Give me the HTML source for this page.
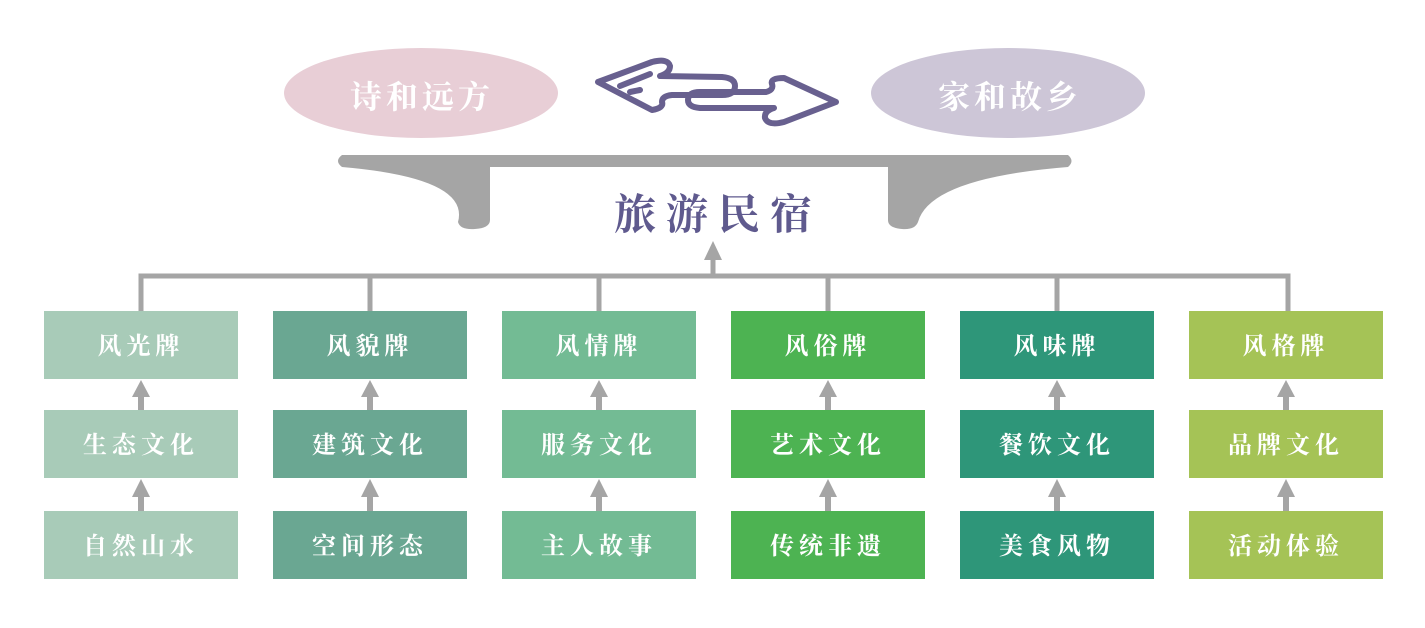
<!DOCTYPE html>
<html><head><meta charset="utf-8"><style>
html,body{margin:0;padding:0;background:#fff;}
body{width:1425px;height:628px;overflow:hidden;position:relative;font-family:"Liberation Serif","Noto Serif CJK SC","Noto Sans CJK SC",serif;}
.b{position:absolute;width:194px;height:68px;color:#fff;font-size:24px;font-weight:bold;display:flex;align-items:center;justify-content:center;letter-spacing:5px;padding-bottom:4px;box-sizing:border-box;}
.t{position:absolute;color:#fff;font-size:32px;font-weight:bold;letter-spacing:4px;}
</style></head><body>
<svg width="1425" height="628" style="position:absolute;left:0;top:0">
<ellipse cx="421" cy="93" rx="137" ry="45" fill="#e8ced6"/>
<ellipse cx="1008" cy="93" rx="137" ry="45" fill="#cdc6d7"/>
<g fill="none" stroke="#68608f" stroke-width="6" stroke-linejoin="round" stroke-linecap="round">
<path d="M598 82 L652 62 Q668 58 670 66 Q670 73 660 76 L722 77 Q735 78 735 86 Q735 95 722 95 L672 95 Q662 96 662 102 Q664 108 652 110 Z"/>
<path d="M836 102 L784 122 Q768 126 765 118 Q764 111 774 108 L700 108 Q688 107 688 100 Q688 92 700 92 L766 92 Q774 90 772 84 Q770 78 784 78 Z"/>
<path d="M620 86 L650 74 M630 92 L640 90"/>
</g>
<path d="M342 155 Q334 161 342 167 Q470 178 458 222 Q460 230 475 229 Q490 228 490 220 L490 167 L1068 167 Q1075 161 1068 155 Z" fill="#a5a5a5"/>
<path d="M888 167 L1068 167 Q930 178 918 222 Q915 230 902 229 Q888 228 888 220 Z" fill="#a5a5a5"/>
<g stroke="#a5a5a5" stroke-width="5" fill="none">
<path d="M141 311 L141 276 L1288 276 L1288 311 M370 276 L370 311 M599 276 L599 311 M828 276 L828 311 M1057 276 L1057 311 M713 276 L713 258"/>
</g>
<polygon points="713,241 704,260 722,260" fill="#a5a5a5"/>
</svg>
<div class="t" style="left:350px;top:72px">诗和远方</div>
<div class="t" style="left:938px;top:72px">家和故乡</div>
<div style="position:absolute;left:614px;top:182px;font-size:42px;color:#5f5a8e;font-weight:bold;letter-spacing:10px">旅游民宿</div>

<div class="b" style="left:44px;top:311px;background:#a8cbb8">风光牌</div>
<div class="b" style="left:44px;top:410px;background:#a8cbb8">生态文化</div>
<div class="b" style="left:44px;top:511px;background:#a8cbb8">自然山水</div>
<div class="b" style="left:273px;top:311px;background:#6aa792">风貌牌</div>
<div class="b" style="left:273px;top:410px;background:#6aa792">建筑文化</div>
<div class="b" style="left:273px;top:511px;background:#6aa792">空间形态</div>
<div class="b" style="left:502px;top:311px;background:#73bb94">风情牌</div>
<div class="b" style="left:502px;top:410px;background:#73bb94">服务文化</div>
<div class="b" style="left:502px;top:511px;background:#73bb94">主人故事</div>
<div class="b" style="left:731px;top:311px;background:#4db352">风俗牌</div>
<div class="b" style="left:731px;top:410px;background:#4db352">艺术文化</div>
<div class="b" style="left:731px;top:511px;background:#4db352">传统非遗</div>
<div class="b" style="left:960px;top:311px;background:#2e9679">风味牌</div>
<div class="b" style="left:960px;top:410px;background:#2e9679">餐饮文化</div>
<div class="b" style="left:960px;top:511px;background:#2e9679">美食风物</div>
<div class="b" style="left:1189px;top:311px;background:#a5c356">风格牌</div>
<div class="b" style="left:1189px;top:410px;background:#a5c356">品牌文化</div>
<div class="b" style="left:1189px;top:511px;background:#a5c356">活动体验</div>

<svg width="1425" height="628" style="position:absolute;left:0;top:0">
<g fill="#a5a5a5">
<path d="M132 397 L141 380 L150 397 L144 397 L144 410 L138 410 L138 397 Z"/>
<path d="M132 497 L141 479 L150 497 L144 497 L144 511 L138 511 L138 497 Z"/>
<path d="M361 397 L370 380 L379 397 L373 397 L373 410 L367 410 L367 397 Z"/>
<path d="M361 497 L370 479 L379 497 L373 497 L373 511 L367 511 L367 497 Z"/>
<path d="M590 397 L599 380 L608 397 L602 397 L602 410 L596 410 L596 397 Z"/>
<path d="M590 497 L599 479 L608 497 L602 497 L602 511 L596 511 L596 497 Z"/>
<path d="M819 397 L828 380 L837 397 L831 397 L831 410 L825 410 L825 397 Z"/>
<path d="M819 497 L828 479 L837 497 L831 497 L831 511 L825 511 L825 497 Z"/>
<path d="M1048 397 L1057 380 L1066 397 L1060 397 L1060 410 L1054 410 L1054 397 Z"/>
<path d="M1048 497 L1057 479 L1066 497 L1060 497 L1060 511 L1054 511 L1054 497 Z"/>
<path d="M1277 397 L1286 380 L1295 397 L1289 397 L1289 410 L1283 410 L1283 397 Z"/>
<path d="M1277 497 L1286 479 L1295 497 L1289 497 L1289 511 L1283 511 L1283 497 Z"/>
</g>
</svg>
</body></html>
